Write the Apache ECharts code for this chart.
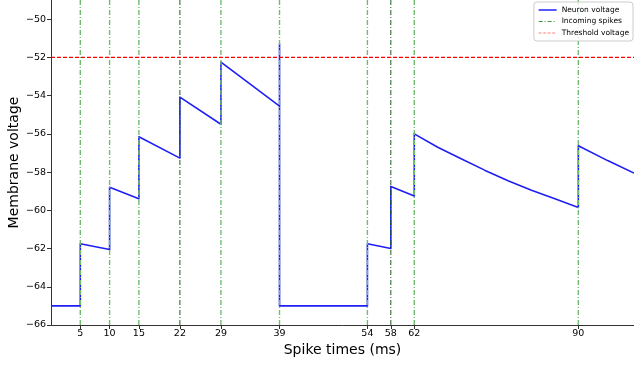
<!DOCTYPE html>
<html>
<head>
<meta charset="utf-8">
<script src="https://cdn.jsdelivr.net/npm/echarts@6/dist/echarts.min.js"></script>
<style>html,body{margin:0;padding:0;background:#fff;}#c{width:634px;height:366px;}</style>
</head>
<body>
<div id="c"></div>
<script>
// Membrane voltage trace [time ms, voltage]
const voltageTimes = [0, 5, 5, 10, 10, 15, 15, 22, 22, 29, 29, 39, 39, 39, 54, 54, 58, 58, 62, 62, 66, 70, 74, 78, 82, 86, 90, 90, 95, 99.5];
const voltageValues = [-65, -65, -61.75, -62.05, -58.8, -59.4, -56.15, -57.27, -54.08, -55.5, -52.25, -54.55, -51.3, -65, -65, -61.75, -62.0, -58.75, -59.25, -56.0, -56.7, -57.3, -57.9, -58.45, -58.95, -59.4, -59.85, -56.62, -57.4, -58.05];
// Incoming spikes
const lightSpikes = [5, 10, 15, 29, 39, 54, 62, 90];
const darkSpikes = [22, 58];
const xTickLabels = [5, 10, 15, 22, 29, 39, 54, 58, 62, 90];
const yTickLabels = [-66, -64, -62, -60, -58, -56, -54, -52, -50];
const threshold = -52;

const X_MIN = 0, X_MAX = 99.5, Y_MIN = -66, Y_MAX = -49;
const font = 'DejaVu Sans';
const minus = v => String(v).replace('-', '\u2212');
const noSymbol = { color: 'rgba(0,0,0,0)', borderWidth: 0, opacity: 0 };

const series = [];
series.push({
  name: 'Neuron voltage', type: 'line', showSymbol: false, symbol: 'none',
  data: voltageTimes.map((t, i) => [t, voltageValues[i]]),
  lineStyle: { color: '#1f1ff5', width: 1.6, join: 'round' }, itemStyle: { color: '#1f1ff5' },
  animation: false, z: 2
});
lightSpikes.forEach(t => series.push({
  name: 'Incoming spikes', type: 'line', showSymbol: false, symbol: 'none',
  data: [[t, Y_MIN], [t, Y_MAX]],
  lineStyle: { color: '#70bb70', width: 1.4, type: [5, 2, 1, 2] },
  itemStyle: { color: '#70bb70' }, animation: false, z: 3
}));
darkSpikes.forEach(t => series.push({
  name: 'Incoming spikes 2', type: 'line', showSymbol: false, symbol: 'none',
  data: [[t, Y_MIN], [t, Y_MAX]],
  lineStyle: { color: '#1b5e1b', width: 1, type: [5, 2, 1, 2] },
  itemStyle: { color: '#1b5e1b' }, animation: false, z: 3
}));
series.push({
  name: 'Threshold voltage', type: 'line', showSymbol: false, symbol: 'none',
  data: [[X_MIN, threshold], [X_MAX, threshold]],
  lineStyle: { color: '#ff0000', width: 1.2, type: [4, 2] },
  itemStyle: { color: '#ff0000' }, animation: false, z: 3
});

const chart = echarts.init(document.getElementById('c'), null, { renderer: 'canvas' });
chart.setOption({
  animation: false,
  backgroundColor: '#fff',
  grid: { left: 51, right: 0, top: 0, bottom: 41, containLabel: false, outerBoundsMode: 'none' },
  legend: {
    data: [
      { name: 'Neuron voltage', itemStyle: noSymbol, lineStyle: { color: '#2020ff', width: 1.5 } },
      { name: 'Incoming spikes', itemStyle: noSymbol, lineStyle: { color: '#3a9a3a', type: [4, 2, 1, 2], width: 1 } },
      { name: 'Threshold voltage', itemStyle: noSymbol, lineStyle: { color: '#ff8080', type: [3, 1.5], width: 1 } }
    ],
    orient: 'vertical', right: 1, top: 2,
    itemWidth: 18, itemHeight: 8, itemGap: 3.5,
    padding: [4, 4, 4, 4],
    backgroundColor: 'rgba(255,255,255,0.8)',
    borderColor: '#cccccc', borderWidth: 1, borderRadius: 3,
    textStyle: { fontFamily: font, fontSize: 7.5, color: '#000' },
    selectedMode: false
  },
  xAxis: {
    type: 'value', min: X_MIN, max: X_MAX,
    name: 'Spike times (ms)', nameLocation: 'middle', nameGap: 18, nameMoveOverlap: false,
    nameTextStyle: { fontFamily: font, fontSize: 14, color: '#000' },
    splitLine: { show: false },
    axisLine: { show: true, onZero: false, lineStyle: { color: '#333', width: 1 } },
    axisTick: { show: true, customValues: xTickLabels, length: 4, lineStyle: { color: '#333' } },
    axisLabel: { customValues: xTickLabels, fontFamily: font, fontSize: 9.5, color: '#000', margin: 4 }
  },
  yAxis: {
    type: 'value', min: Y_MIN, max: Y_MAX,
    name: 'Membrane voltage', nameLocation: 'middle', nameGap: 30, nameRotate: 90, nameMoveOverlap: false,
    nameTextStyle: { fontFamily: font, fontSize: 14, color: '#000' },
    splitLine: { show: false },
    axisLine: { show: true, onZero: false, lineStyle: { color: '#333', width: 1 } },
    axisTick: { show: true, customValues: yTickLabels, length: 4, lineStyle: { color: '#333' } },
    axisLabel: { customValues: yTickLabels, fontFamily: font, fontSize: 9.5, color: '#000', margin: 5, formatter: minus }
  },
  series: series
});
</script>
</body>
</html>
